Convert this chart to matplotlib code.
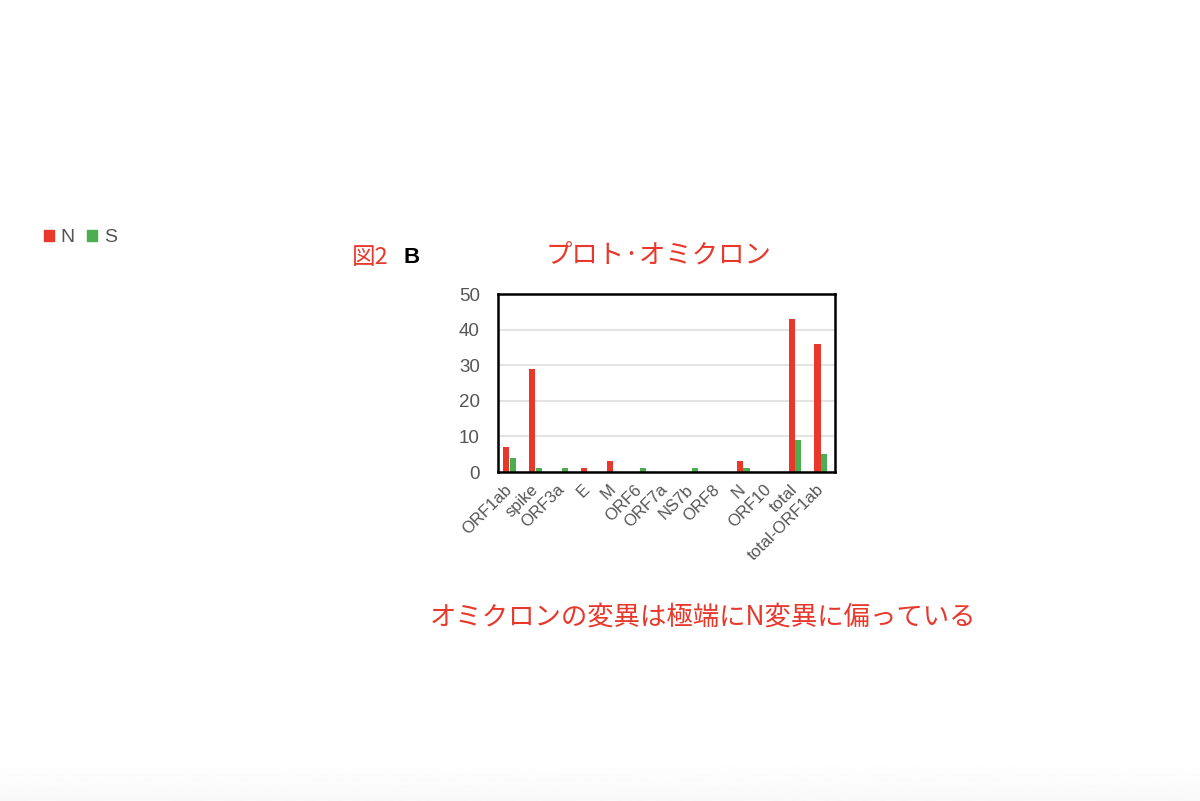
import numpy as np
import matplotlib
matplotlib.use("Agg")
import matplotlib.pyplot as plt
from matplotlib.patches import Patch

# mutations per gene, omicron vs. prototype
genes = ["ORF1ab", "spike", "ORF3a", "E", "M", "ORF6", "ORF7a", "NS7b",
         "ORF8", "N", "ORF10", "total", "total-ORF1ab"]
n_counts = [7, 29, 0, 1, 3, 0, 0, 0, 0, 3, 0, 43, 36]
s_counts = [4, 1, 1, 0, 0, 1, 0, 1, 0, 1, 0, 9, 5]
y_ticks = [0, 10, 20, 30, 40, 50]

red = "#e8382b"
green = "#4cae50"
gray = "#555555"
jp = ["Noto Sans CJK JP", "DejaVu Sans"]

plt.rcParams["font.family"] = ["Liberation Sans", "DejaVu Sans"]

fig = plt.figure(figsize=(12, 8.01), dpi=100)

# faint grey band at the very bottom of the slide
bg = fig.add_axes([0, 0, 1, 0.05], zorder=-5)
bg.imshow(np.linspace(1.0, 0.975, 50).reshape(-1, 1), cmap="gray",
          vmin=0, vmax=1, aspect="auto", extent=[0, 1, 0, 1])
bg.axis("off")

ax = fig.add_axes([0.415, 0.4107, 0.281, 0.222])

x = np.arange(len(genes))
w = 0.24
ax.bar(x - 0.13, n_counts, w, color=red, label="N", zorder=3)
ax.bar(x + 0.13, s_counts, w, color=green, label="S", zorder=3)

ax.set_xlim(-0.45, len(genes) - 0.45)
ax.set_ylim(0, 50)
ax.set_yticks(y_ticks)
ax.yaxis.grid(True, color="#dedede", lw=1.2, zorder=0)
ax.tick_params(axis="y", length=0, pad=13, labelsize=13.5, labelcolor=gray)
ax.tick_params(axis="x", length=0, pad=11)
ax.set_xticks(x)
ax.set_xticklabels(genes, rotation=45, ha="right", va="center",
                   rotation_mode="anchor", fontsize=12, color=gray)
for sp in ax.spines.values():
    sp.set_color("black")
    sp.set_linewidth(1.8)
    sp.set_zorder(4)

fig.legend(handles=[Patch(color=red, label="N"), Patch(color=green, label="S")],
           loc="center left", bbox_to_anchor=(0.022, 0.703), ncol=2,
           frameon=False, handlelength=0.5, handleheight=0.45,
           handletextpad=0.35, columnspacing=0.65, fontsize=14,
           labelcolor=gray)

fig.text(0.5485, 0.682, "プロト·オミクロン", ha="center", va="center",
         fontsize=19, color=red, family=jp)
fig.text(0.293, 0.679, "図2", ha="left", va="center",
         fontsize=17, color=red, family=jp)
fig.text(0.336, 0.679, "B", ha="left", va="center",
         fontsize=16, color="black", weight="bold")
fig.text(0.5855, 0.2297, "オミクロンの変異は極端にN変異に偏っている",
         ha="center", va="center", fontsize=19, color=red, family=jp)

fig.savefig("out.png", dpi=100)
